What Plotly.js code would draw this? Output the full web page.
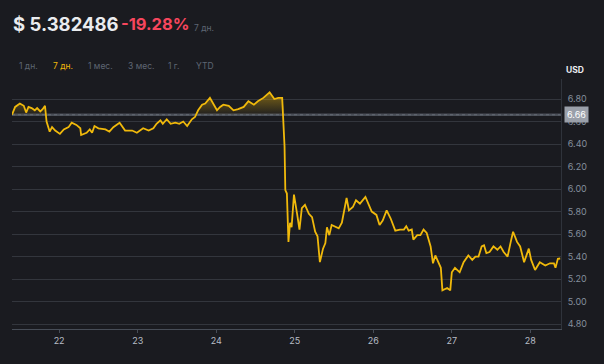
<!DOCTYPE html>
<html>
<head>
<meta charset="utf-8">
<script src="https://cdn.plot.ly/plotly-3.0.1.min.js"></script>
<style>
html,body{margin:0;padding:0;background:#1a1b20;}
#chart{width:604px;height:364px;}
</style>
</head>
<body>
<div id="chart"></div>
<script>
// Time in fractional days of the month
const days = [21.40,21.44,21.50,21.55,21.58,21.61,21.65,21.69,21.72,21.76,21.79,21.82,21.84,21.88,21.91,21.95,
22.01,22.06,22.12,22.16,22.22,22.27,22.28,22.35,22.39,22.42,22.45,22.50,22.59,22.64,22.69,22.77,22.84,22.93,22.99,
23.07,23.14,23.20,23.24,23.29,23.32,23.37,23.42,23.48,23.53,23.58,23.63,23.69,23.73,23.77,23.82,23.86,23.92,23.97,
24.01,24.05,24.09,24.16,24.22,24.28,24.35,24.41,24.48,24.53,24.60,24.68,24.74,24.79,24.84,24.87,24.88,24.90,24.92,24.94,24.96,24.99,
25.01,25.03,25.06,25.09,25.13,25.18,25.22,25.26,25.29,25.32,25.36,25.39,25.41,25.44,25.47,25.52,25.56,25.60,25.63,25.66,25.69,25.74,25.78,25.83,25.90,25.94,25.98,
26.04,26.08,26.12,26.17,26.22,26.28,26.34,26.39,26.42,26.45,26.49,26.51,26.56,26.60,26.64,26.68,26.73,26.76,26.79,26.83,26.86,26.88,26.94,26.98,
27.00,27.04,27.10,27.15,27.21,27.26,27.30,27.34,27.38,27.41,27.44,27.48,27.53,27.58,27.62,27.66,27.71,27.75,27.78,27.83,27.87,27.92,27.98,
28.01,28.06,28.12,28.19,28.25,28.30,28.32,28.35,28.38];
const prices = [6.66,6.73,6.76,6.74,6.68,6.73,6.72,6.70,6.72,6.69,6.71,6.74,6.60,6.51,6.55,6.52,
6.49,6.53,6.55,6.59,6.57,6.54,6.48,6.50,6.53,6.50,6.56,6.54,6.53,6.51,6.55,6.59,6.52,6.52,6.50,
6.54,6.52,6.54,6.58,6.61,6.58,6.62,6.58,6.59,6.58,6.60,6.56,6.62,6.64,6.70,6.75,6.76,6.81,6.75,
6.70,6.73,6.75,6.74,6.70,6.71,6.73,6.78,6.75,6.78,6.81,6.86,6.80,6.81,6.81,6.38,5.99,5.96,5.53,5.70,5.66,5.95,
5.84,5.78,5.64,5.83,5.86,5.78,5.75,5.62,5.58,5.35,5.47,5.52,5.66,5.59,5.68,5.66,5.65,5.70,5.83,5.92,5.81,5.84,5.90,5.87,5.93,5.86,5.80,
5.77,5.68,5.72,5.81,5.74,5.63,5.64,5.64,5.67,5.63,5.64,5.55,5.59,5.59,5.64,5.61,5.49,5.34,5.41,5.34,5.30,5.10,5.12,5.10,
5.26,5.30,5.26,5.35,5.41,5.37,5.40,5.40,5.49,5.50,5.43,5.44,5.49,5.46,5.49,5.44,5.40,5.53,5.62,5.53,5.49,5.35,5.47,
5.37,5.28,5.35,5.32,5.34,5.34,5.30,5.38,5.382486];
const refPrice = 6.66;
const yTicks = [4.80,5.00,5.20,5.40,5.60,5.80,6.00,6.20,6.40,6.60,6.80];
const xTicks = [22,23,24,25,26,27,28];
const xTickLabels = ['22','23','24','25','26','27','28'];
const priceText = '$ 5.382486';
const changeText = '-19.28%';
const periodText = '7 дн.';
const rangeButtons = ['1 дн.','7 дн.','1 мес.','3 мес.','1 г.','YTD'];
const activeButton = '7 дн.';

const GOLD = '#f0b90b';
const BG = '#1a1b20';
const FONT = 'Inter, Roboto, sans-serif';
const PL = 12, PR = 561, PT = 79, PB = 329;
const W = PR - PL, H = PB - PT;
const px = x => (x - PL) / W;
const py = y => (PB - y) / H;

const base = days.map(() => refPrice);
const above = prices.map(v => Math.max(v, refPrice));

const traces = [
  {x: days, y: base, mode: 'lines', line: {width: 1, color: 'rgba(120,126,136,0.6)', dash: 'dot'}, hoverinfo: 'skip', showlegend: false},
  {x: days, y: above, mode: 'lines', line: {width: 0, color: 'rgba(0,0,0,0)'}, fill: 'tonexty',
   fillgradient: {type: 'vertical', start: refPrice, stop: 6.87,
     colorscale: [[0, 'rgba(240,185,11,0.03)'], [1, 'rgba(240,185,11,0.5)']]},
   hoverinfo: 'skip', showlegend: false},
  {x: days, y: prices, mode: 'lines', line: {color: GOLD, width: 1.8}, showlegend: false}
];

const annotations = [
  {xref: 'paper', yref: 'paper', x: px(11), y: py(24), xanchor: 'left', yanchor: 'middle', showarrow: false,
   text: '<b>' + priceText + '</b>', font: {family: FONT, size: 18.5, color: '#eaecef'}},
  {xref: 'paper', yref: 'paper', x: px(119), y: py(24), xanchor: 'left', yanchor: 'middle', showarrow: false,
   text: '<b>' + changeText + '</b>', font: {family: FONT, size: 16.5, color: '#f6465d'}},
  {xref: 'paper', yref: 'paper', x: px(192), y: py(28), xanchor: 'left', yanchor: 'middle', showarrow: false,
   text: periodText, font: {family: FONT, size: 8.5, color: '#5e6673'}},
  {xref: 'paper', yref: 'paper', x: px(564), y: py(70), xanchor: 'left', yanchor: 'middle', showarrow: false,
   text: '<b>USD</b>', font: {family: FONT, size: 8.5, color: '#eaecef'}},
  {xref: 'paper', yref: 'y', x: 1, y: refPrice, xanchor: 'left', yanchor: 'middle', xshift: 3, showarrow: false,
   text: refPrice.toFixed(2), bgcolor: '#9aa0aa', borderpad: 2,
   font: {family: FONT, size: 9, color: '#ffffff'}}
];
const btnX = [17, 51, 86, 126, 166, 194];
rangeButtons.forEach((b, i) => {
  annotations.push({xref: 'paper', yref: 'paper', x: px(btnX[i]), y: py(66), xanchor: 'left', yanchor: 'middle',
    showarrow: false, text: b,
    font: {family: FONT, size: 8.5, color: b === activeButton ? GOLD : '#5e6673'}});
});

const layout = {
  width: 604, height: 364,
  margin: {l: PL, r: 604 - PR, t: PT, b: 364 - PB, pad: 0},
  paper_bgcolor: BG, plot_bgcolor: BG,
  showlegend: false,
  xaxis: {range: [21.40, 28.39], tickvals: xTicks, ticktext: xTickLabels, showgrid: false, zeroline: false,
    showline: true, linecolor: '#474d57', linewidth: 1, ticks: 'outside', ticklen: 3, tickcolor: '#474d57',
    tickfont: {family: FONT, size: 9, color: '#b7bdc6'}, fixedrange: true},
  yaxis: {range: [4.756, 6.978], side: 'right', tickvals: yTicks, tickformat: '.2f', showgrid: true,
    gridcolor: '#33363d', gridwidth: 1, zeroline: false, showline: true, linecolor: '#2f333b', linewidth: 1,
    ticks: '', ticklabelstandoff: 4,
    tickfont: {family: FONT, size: 9, color: '#848e9c'}, fixedrange: true},
  shapes: [
    {type: 'line', xref: 'paper', yref: 'y', x0: 0, x1: 1, y0: refPrice, y1: refPrice,
     line: {color: '#4a4f58', width: 2.5}, layer: 'below'}
  ],
  annotations: annotations
};

Plotly.newPlot('chart', traces, layout, {staticPlot: true, displayModeBar: false});
</script>
</body>
</html>
